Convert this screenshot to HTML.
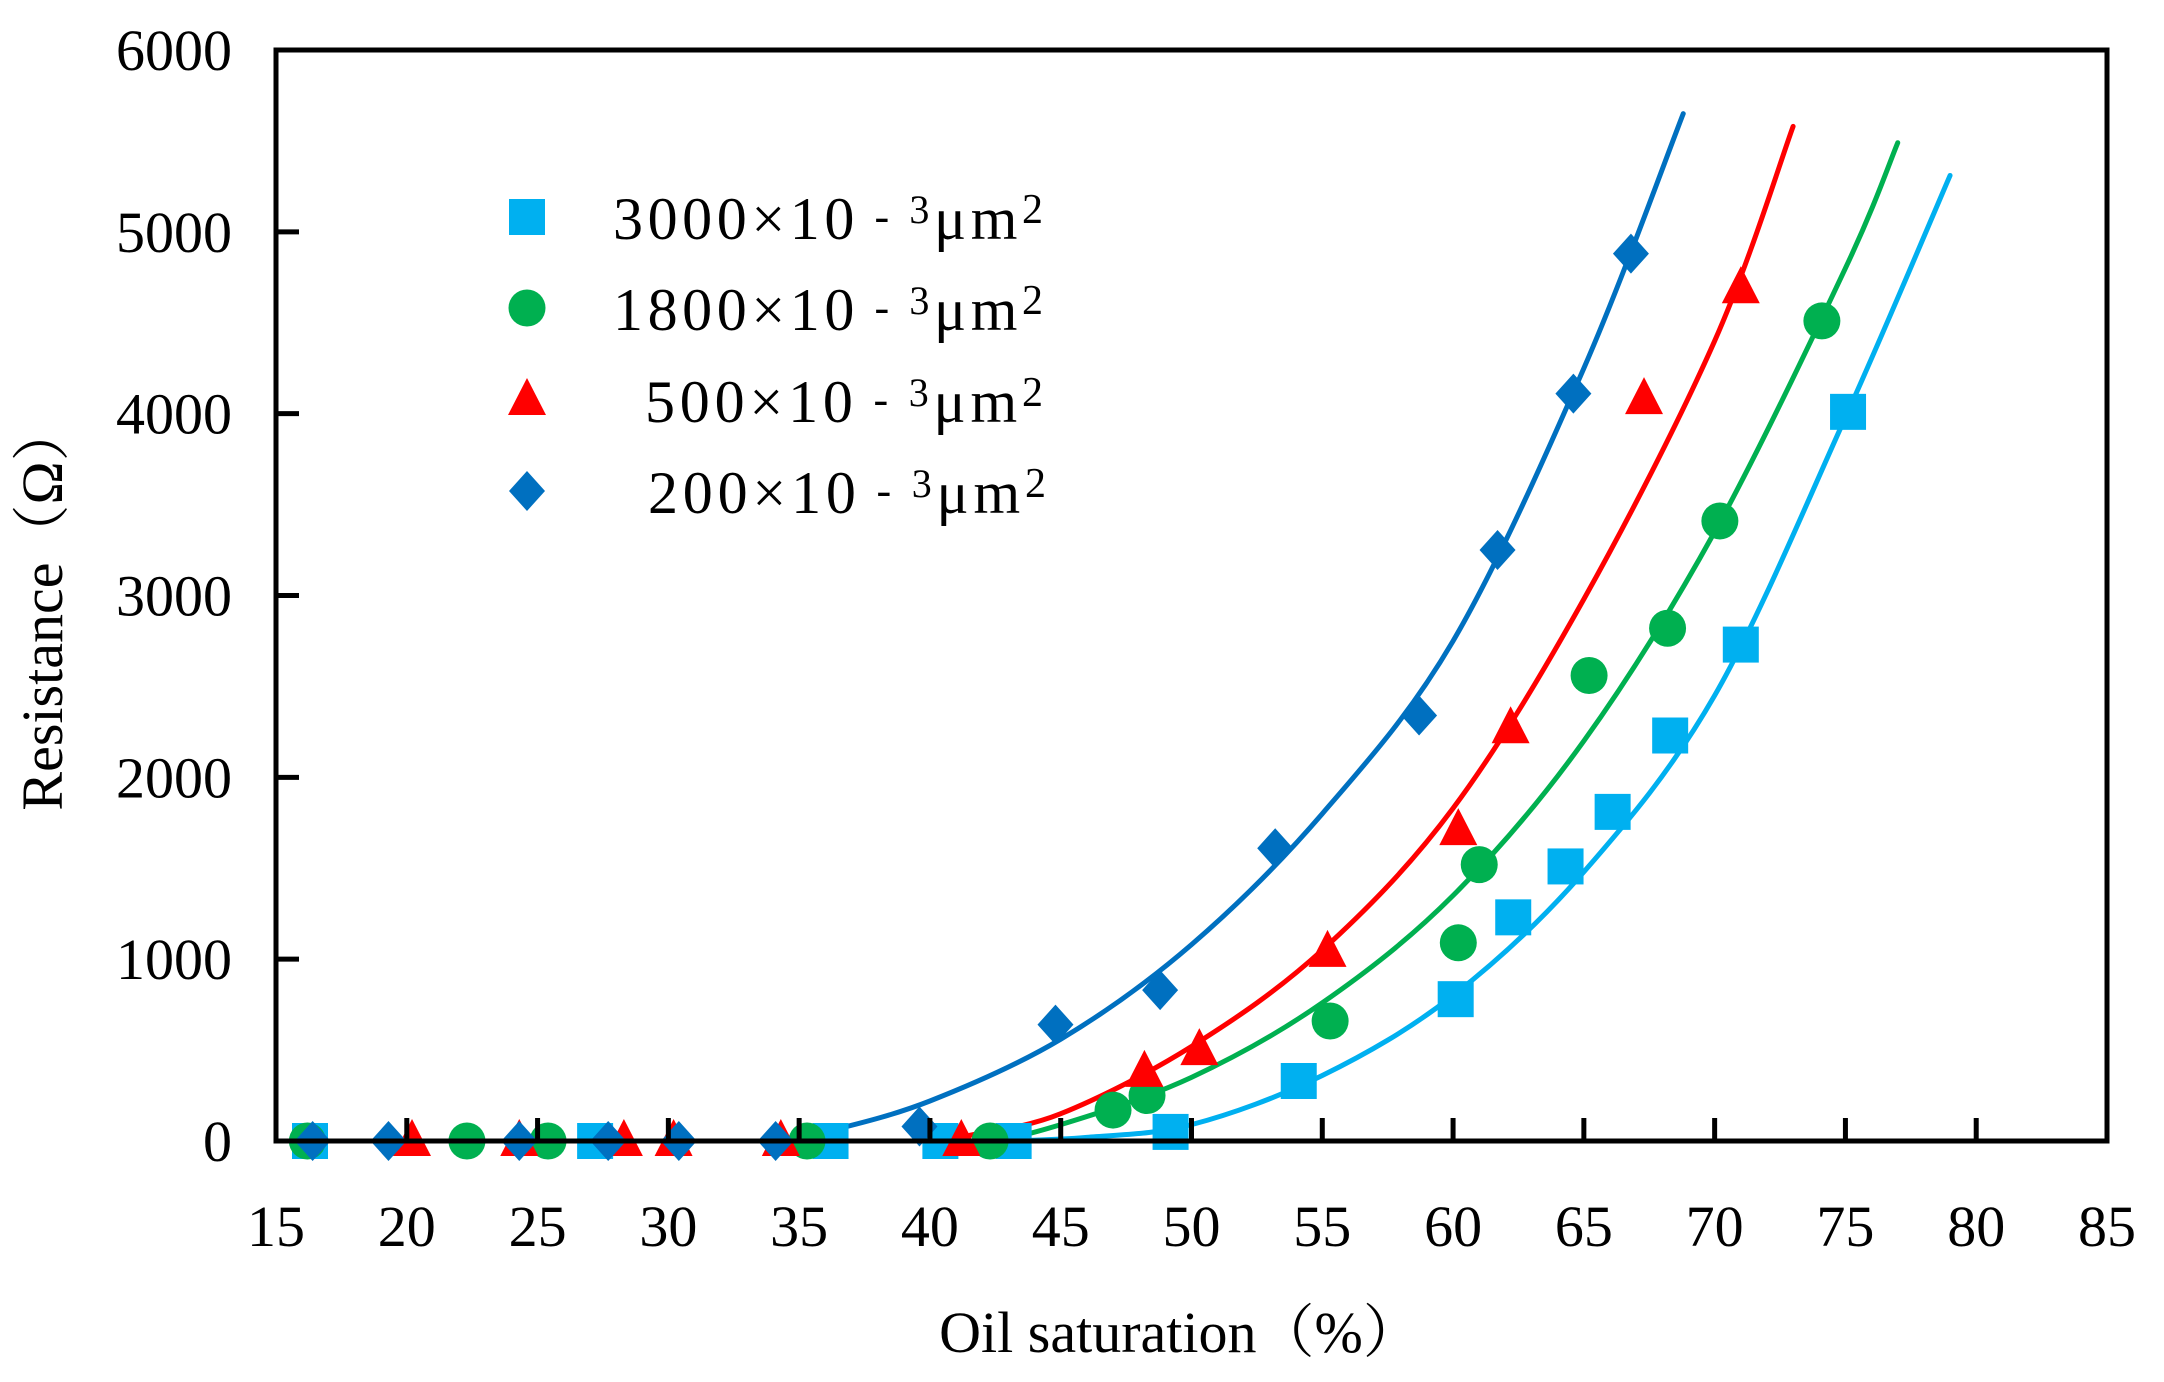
<!DOCTYPE html>
<html><head><meta charset="utf-8"><style>
html,body{margin:0;padding:0;background:#fff}
svg{display:block}
text{font-family:"Liberation Serif","Noto Serif CJK SC",serif;fill:#000}
</style></head><body>
<svg id="chart" width="2164" height="1382" viewBox="0 0 2164 1382">
<g id="curves"></g>
<g id="marks"></g>
<g id="axes"></g>
<g id="legend"></g>
<text x="1180" y="1352" font-size="58" text-anchor="middle">Oil saturation（%）</text>
<text transform="translate(62,607) rotate(-90)" font-size="58" text-anchor="middle">Resistance（Ω）</text>
</svg>
<script>
const xTicks=[15,20,25,30,35,40,45,50,55,60,65,70,75,80,85];
const yTicks=[0,1000,2000,3000,4000,5000,6000];
const seriesNames=["3000","1800","500","200"];
const s3000X=[16.3,27.2,36.2,40.4,43.2,49.2,54.1,60.1,62.3,64.3,66.1,68.3,71,75.1];
const s3000Y=[0,0,0,0,0,50,330,780,1230,1510,1810,2230,2730,4010];
const s1800X=[16.2,22.3,25.4,35.3,42.3,47,48.3,55.3,60.2,61,65.2,68.2,70.2,74.1];
const s1800Y=[0,0,0,0,0,170,250,660,1090,1520,2560,2820,3410,4510];
const s500X=[20.2,24.3,28.3,30.2,34.3,41.2,48.2,50.3,55.2,60.2,62.2,67.3,71.0];
const s500Y=[0,0,0,0,0,0,380,500,1040,1710,2270,4080,4690];
const s200X=[16.4,19.3,24.3,27.7,30.4,34.1,39.6,44.8,48.8,53.2,58.7,61.7,64.6,66.8];
const s200Y=[0,0,0,0,0,0,80,640,830,1610,2340,3250,4110,4880];
const c3000X=[43,46,50,55,60,65,70,75,79];
const c3000Y=[0,20,90,360,800,1480,2450,3980,5310];
const c1800X=[30.5,38,42,45,50,55,60,65,70,75,77];
const c1800Y=[0,0,0,90,350,760,1350,2200,3350,4800,5490];
const c500X=[41.5,45,50,55,60,65,70,73];
const c500Y=[30,150,520,1050,1830,2980,4400,5580];
const c200X=[16,25,34,36,40,45,50,55,60,65,68.8];
const c200Y=[0,0,0,50,220,560,1080,1800,2750,4250,5650];

const L=276,R=2107,T=50,B=1141;
const sx=v=>L+(v-15)/(85-15)*(R-L);
const sy=v=>B-(v/6000)*(B-T);
const NS="http://www.w3.org/2000/svg";
function mk(tag,attrs,parent){const e=document.createElementNS(NS,tag);for(const k in attrs)e.setAttribute(k,attrs[k]);parent.appendChild(e);return e;}
const colors=["#00B0F0","#00B050","#FF0000","#0070C0"];
const shapes=["square","circle","triangle","diamond"];
function marker(shape,cx,cy,col,parent){
  let e;
  if(shape==="square")e=mk("rect",{x:cx-18,y:cy-18,width:36,height:36,fill:col},parent);
  else if(shape==="circle")e=mk("circle",{cx:cx,cy:cy,r:18.5,fill:col},parent);
  else if(shape==="triangle")e=mk("polygon",{points:`${cx},${cy-22} ${cx+19},${cy+15} ${cx-19},${cy+15}`,fill:col},parent);
  else e=mk("polygon",{points:`${cx},${cy-20} ${cx+18},${cy} ${cx},${cy+20} ${cx-18},${cy}`,fill:col},parent);
  return e;
}
function spline(xs,ys){
  const p=xs.map((x,i)=>[sx(x),sy(ys[i])]);
  let d=`M${p[0][0]},${p[0][1]}`;
  for(let i=0;i<p.length-1;i++){
    const p0=p[i-1]||p[i],p1=p[i],p2=p[i+1],p3=p[i+2]||p2;
    const c1=[p1[0]+(p2[0]-p0[0])/6,p1[1]+(p2[1]-p0[1])/6];
    const c2=[p2[0]-(p3[0]-p1[0])/6,p2[1]-(p3[1]-p1[1])/6];
    d+=` C${c1[0]},${Math.min(c1[1],B)} ${c2[0]},${Math.min(c2[1],B)} ${p2[0]},${p2[1]}`;
  }
  return d;
}
const curves=[[c3000X,c3000Y],[c1800X,c1800Y],[c500X,c500Y],[c200X,c200Y]];
const pts=[[s3000X,s3000Y],[s1800X,s1800Y],[s500X,s500Y],[s200X,s200Y]];
const cg=document.getElementById('curves');
curves.forEach((c,i)=>{
  const e=mk("path",{d:spline(c[0],c[1]),fill:"none",stroke:colors[i],"stroke-width":5,"stroke-linecap":"round"},cg);
  
  
});
const mg=document.getElementById('marks');
pts.forEach((s,i)=>{
  s[0].forEach((x,j)=>{
    const e=marker(shapes[i],sx(x),sy(s[1][j]),colors[i],mg);
    
    
  });
});
const ag=document.getElementById('axes');
const frame=mk("rect",{x:L,y:T,width:R-L,height:B-T,fill:"none",stroke:"#000","stroke-width":5},ag);


xTicks.forEach(v=>{
  const x=sx(v);
  if(v>15&&v<85){const t=mk("line",{x1:x,y1:B,x2:x,y2:B-23,stroke:"#000","stroke-width":5},ag);
  
  }
  const l=mk("text",{x:x,y:1246,"font-size":58,"text-anchor":"middle"},ag);l.textContent=v;
  
  
});
yTicks.forEach(v=>{
  const y=sy(v);
  if(v>0&&v<6000){const t=mk("line",{x1:L,y1:y,x2:L+23,y2:y,stroke:"#000","stroke-width":5},ag);
  
  }
  const l=mk("text",{x:232,y:y+20,"font-size":58,"text-anchor":"end"},ag);l.textContent=v;
  
  
});
const lg=document.getElementById('legend');
const legY=[217,308,400,491];
const legX=[613,613,645,648];
const legW=[430,430,398,398];
seriesNames.forEach((n,i)=>{
  const m=marker(shapes[i],527,legY[i],colors[i],lg);
  
  
  const t=mk("text",{x:legX[i],y:legY[i]+22,"font-size":60,textLength:legW[i],lengthAdjust:"spacing"},lg);
  
  
  t.innerHTML=`${n}×10<tspan font-size="44" dy="-8"> - </tspan><tspan font-size="40" dy="-8">3</tspan><tspan dy="16">μm</tspan><tspan font-size="42" dy="-16">2</tspan>`;
});
</script>
</body></html>
